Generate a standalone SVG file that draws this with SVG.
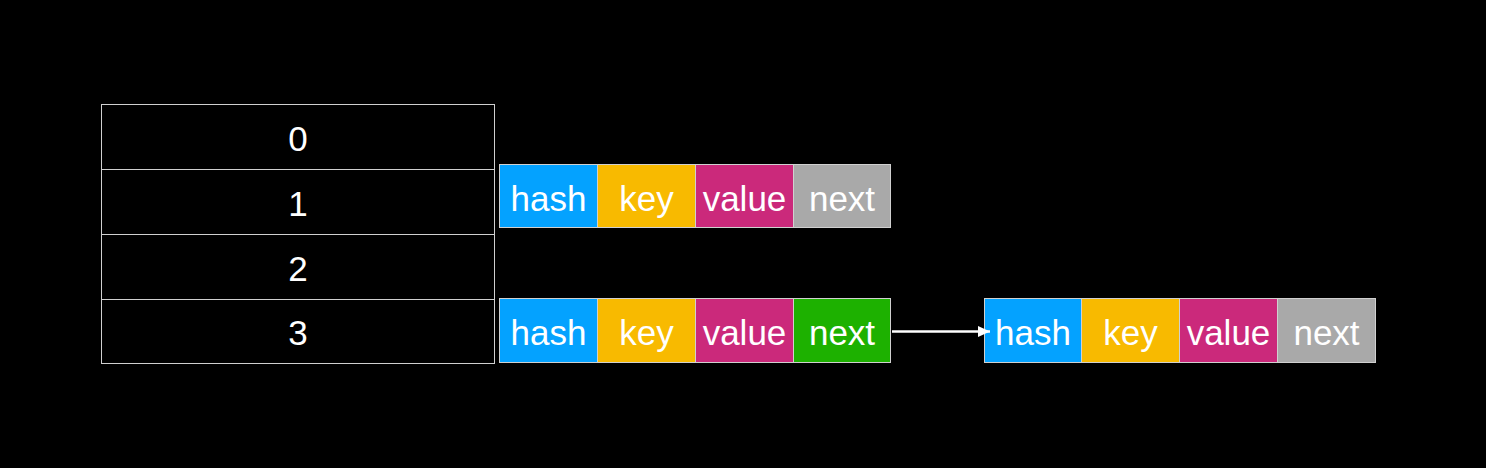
<svg xmlns="http://www.w3.org/2000/svg" width="1486" height="468" viewBox="0 0 1486 468">
<style>
.bg{fill:#000}
.row{fill:#000;stroke:#d0d0d0;stroke-width:1}
.cell{stroke:#d0d0d0;stroke-width:1}
.t{font-family:"Liberation Sans",Arial,sans-serif;font-size:35px;fill:#fff;text-anchor:middle}
.h{fill:#04A2FF}.k{fill:#F8BA00}.v{fill:#CB297B}.n{fill:#A9A9A9}.g{fill:#1DB100}
.conn{stroke:#fff;stroke-width:2.5;fill:none}
</style>
<defs>
<marker id="arr" markerWidth="12" markerHeight="11" refX="12" refY="5.5" orient="auto" markerUnits="userSpaceOnUse">
<path d="M0,0 L12,5.5 L0,11 Z" fill="#fff"/>
</marker>
</defs>
<rect class="bg" x="0" y="0" width="1486" height="468"/>
<g id="table">
<rect class="row" x="101.5" y="104.5" width="393" height="65"/>
<rect class="row" x="101.5" y="169.5" width="393" height="65"/>
<rect class="row" x="101.5" y="234.5" width="393" height="65"/>
<rect class="row" x="101.5" y="299.5" width="393" height="64"/>
<text class="t" x="298" y="151">0</text>
<text class="t" x="298" y="216">1</text>
<text class="t" x="298" y="281">2</text>
<text class="t" x="298" y="345">3</text>
</g>
<g id="node1">
<rect class="cell h" x="499.5" y="164.5" width="98" height="63"/>
<rect class="cell k" x="597.5" y="164.5" width="98" height="63"/>
<rect class="cell v" x="695.5" y="164.5" width="98" height="63"/>
<rect class="cell n" x="793.5" y="164.5" width="97" height="63"/>
<text class="t" x="548.5" y="211">hash</text>
<text class="t" x="646.5" y="211">key</text>
<text class="t" x="744.5" y="211">value</text>
<text class="t" x="842" y="211">next</text>
</g>
<g id="node3">
<rect class="cell h" x="499.5" y="298.5" width="98" height="64"/>
<rect class="cell k" x="597.5" y="298.5" width="98" height="64"/>
<rect class="cell v" x="695.5" y="298.5" width="98" height="64"/>
<rect class="cell g" x="793.5" y="298.5" width="97" height="64"/>
<text class="t" x="548.5" y="345">hash</text>
<text class="t" x="646.5" y="345">key</text>
<text class="t" x="744.5" y="345">value</text>
<text class="t" x="842" y="345">next</text>
</g>
<g id="node4">
<rect class="cell h" x="984.5" y="298.5" width="97" height="64"/>
<rect class="cell k" x="1081.5" y="298.5" width="98" height="64"/>
<rect class="cell v" x="1179.5" y="298.5" width="98" height="64"/>
<rect class="cell n" x="1277.5" y="298.5" width="98" height="64"/>
<text class="t" x="1033" y="345">hash</text>
<text class="t" x="1130.5" y="345">key</text>
<text class="t" x="1228.5" y="345">value</text>
<text class="t" x="1326.5" y="345">next</text>
</g>
<g id="connectors">
<line class="conn" x1="892" y1="331.5" x2="990" y2="331.5" marker-end="url(#arr)"/>
</g>
</svg>
